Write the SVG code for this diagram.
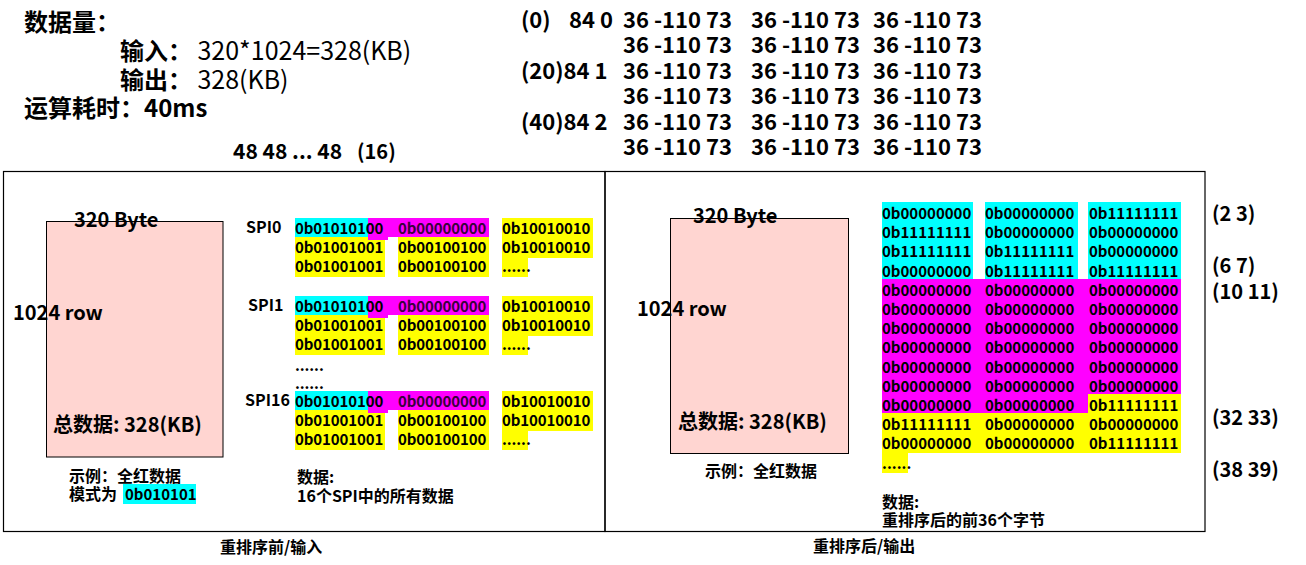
<svg xmlns="http://www.w3.org/2000/svg" width="1306" height="565" viewBox="0 0 1306 565">
<style>
text{font-family:"Noto Sans CJK SC","Noto Sans",sans-serif;font-weight:bold;fill:#000}
.h{font-size:24px}
.n{font-weight:normal;font-size:25px}
.top{font-size:22px}
.lbl{font-size:20px}
.sm{font-size:16px}
.g{font-size:15px}
.gl{letter-spacing:-0.1px}
.mg{fill:#3a003a}
.frame{fill:none;stroke:#000;stroke-width:1.2}
.pink{fill:#ffd5d1;stroke:#000;stroke-width:1}
.cy{fill:#00ffff}
.ma{fill:#ff00ff}
.ye{fill:#ffff00}
</style>

<g id="header">
<text class="h" x="24" y="31">数据量：</text>
<text class="h" x="120" y="60">输入： <tspan class="n">320*1024=328(KB)</tspan></text>
<text class="h" x="120" y="89">输出： <tspan class="n">328(KB)</tspan></text>
<text class="h" x="24" y="117">运算耗时：40ms</text>
<text x="233" y="159" font-size="21">48 48 ... 48</text>
<text x="357" y="159" font-size="20">(16)</text>
</g>

<g id="sequence" class="top">
<text x="521" y="28">(0)</text><text x="569" y="28">84 0</text>
<text x="521" y="79">(20)84 1</text>
<text x="521" y="130">(40)84 2</text>
<text x="623" y="28">36 -110 73</text><text x="751" y="28">36 -110 73</text><text x="873" y="28">36 -110 73</text>
<text x="623" y="53">36 -110 73</text><text x="751" y="53">36 -110 73</text><text x="873" y="53">36 -110 73</text>
<text x="623" y="79">36 -110 73</text><text x="751" y="79">36 -110 73</text><text x="873" y="79">36 -110 73</text>
<text x="623" y="104">36 -110 73</text><text x="751" y="104">36 -110 73</text><text x="873" y="104">36 -110 73</text>
<text x="623" y="130">36 -110 73</text><text x="751" y="130">36 -110 73</text><text x="873" y="130">36 -110 73</text>
<text x="623" y="155">36 -110 73</text><text x="751" y="155">36 -110 73</text><text x="873" y="155">36 -110 73</text>
</g>

<g id="panels">
<rect class="frame" x="3.5" y="171.5" width="601.5" height="360"/>
<rect class="frame" x="605" y="171.5" width="600" height="360"/>
<text class="sm" x="220" y="553">重排序前/输入</text>
<text class="sm" x="813" y="552">重排序后/输出</text>
</g>

<g id="input-matrix">
<rect class="pink" x="46.5" y="221.5" width="176.5" height="235.5"/>
<text class="lbl" x="74" y="227">320 Byte</text>
<text class="lbl" x="13" y="320">1024 row</text>
<text class="lbl" x="53" y="432">总数据: 328(KB)</text>
<text class="sm" x="69" y="482">示例：全红数据</text>
<rect class="cy" x="123" y="484" width="73" height="20"/>
<text class="sm" x="69" y="500">模式为</text>
<text x="125" y="500" font-size="15">0b010101</text>
</g>

<g id="spi0">
<rect class="ye" x="502" y="218" width="91" height="40"/>
<rect class="ye" x="295" y="237" width="90" height="40"/>
<rect class="ye" x="398" y="237" width="91" height="40"/>
<rect class="ye" x="502" y="258" width="26" height="19"/>
<rect class="cy" x="295" y="218" width="73" height="19"/>
<rect class="ma" x="368" y="218" width="121" height="19"/>
<rect class="ma" x="368" y="237" width="20" height="3"/>
<text class="sm" x="246" y="233">SPI0</text>
<g class="g gl">
<text x="295" y="234">0b01010100</text><text class="mg" x="398" y="234">0b00000000</text><text x="502" y="234">0b10010010</text>
<text x="295" y="253">0b01001001</text><text x="398" y="253">0b00100100</text><text x="502" y="253">0b10010010</text>
<text x="295" y="272">0b01001001</text><text x="398" y="272">0b00100100</text><text x="502" y="272">......</text>
</g>
</g>

<g id="spi1">
<rect class="ye" x="502" y="296" width="91" height="40"/>
<rect class="ye" x="295" y="315" width="90" height="40"/>
<rect class="ye" x="398" y="315" width="91" height="40"/>
<rect class="ye" x="502" y="336" width="26" height="19"/>
<rect class="cy" x="295" y="296" width="73" height="19"/>
<rect class="ma" x="368" y="296" width="121" height="19"/>
<rect class="ma" x="368" y="315" width="20" height="3"/>
<text class="sm" x="248" y="311">SPI1</text>
<g class="g gl">
<text x="295" y="312">0b01010100</text><text class="mg" x="398" y="312">0b00000000</text><text x="502" y="312">0b10010010</text>
<text x="295" y="331">0b01001001</text><text x="398" y="331">0b00100100</text><text x="502" y="331">0b10010010</text>
<text x="295" y="350">0b01001001</text><text x="398" y="350">0b00100100</text><text x="502" y="350">......</text>
<text x="295" y="371">......</text>
<text x="295" y="389">......</text>
</g>
</g>

<g id="spi16">
<rect class="ye" x="502" y="391" width="91" height="40"/>
<rect class="ye" x="295" y="410" width="90" height="40"/>
<rect class="ye" x="398" y="410" width="91" height="40"/>
<rect class="ye" x="502" y="431" width="26" height="19"/>
<rect class="cy" x="295" y="391" width="73" height="19"/>
<rect class="ma" x="368" y="391" width="121" height="19"/>
<rect class="ma" x="368" y="410" width="20" height="3"/>
<text class="sm" x="245" y="406">SPI16</text>
<g class="g gl">
<text x="295" y="407">0b01010100</text><text class="mg" x="398" y="407">0b00000000</text><text x="502" y="407">0b10010010</text>
<text x="295" y="426">0b01001001</text><text x="398" y="426">0b00100100</text><text x="502" y="426">0b10010010</text>
<text x="295" y="445">0b01001001</text><text x="398" y="445">0b00100100</text><text x="502" y="445">......</text>
</g>
<text class="sm" x="297" y="483">数据:</text>
<text class="sm" x="297" y="502">16个SPI中的所有数据</text>
</g>

<g id="output-matrix">
<rect class="pink" x="670.5" y="218.5" width="178" height="235"/>
<text class="lbl" x="693" y="223">320 Byte</text>
<text class="lbl" x="637" y="316">1024 row</text>
<text class="lbl" x="678" y="429">总数据: 328(KB)</text>
<text class="sm" x="705" y="477">示例：全红数据</text>
</g>

<g id="output-bytes">
<rect class="cy" x="882" y="202" width="91" height="77"/>
<rect class="cy" x="985" y="202" width="93" height="77"/>
<rect class="cy" x="1088" y="202" width="93" height="77"/>
<rect class="ma" x="882" y="279" width="206" height="134"/>
<rect class="ma" x="1088" y="279" width="93" height="115"/>
<rect class="ye" x="1088" y="394" width="93" height="19"/>
<rect class="ye" x="882" y="413" width="299" height="40"/>
<rect class="ye" x="882" y="453" width="26" height="20"/>
<g class="g">
<text x="882" y="219">0b00000000</text><text x="985" y="219">0b00000000</text><text x="1089" y="219">0b11111111</text>
<text x="882" y="238">0b11111111</text><text x="985" y="238">0b00000000</text><text x="1089" y="238">0b00000000</text>
<text x="882" y="257">0b11111111</text><text x="985" y="257">0b11111111</text><text x="1089" y="257">0b00000000</text>
<text x="882" y="277">0b00000000</text><text x="985" y="277">0b11111111</text><text x="1089" y="277">0b11111111</text>
<g class="mg">
<text x="882" y="296">0b00000000</text><text x="985" y="296">0b00000000</text><text x="1089" y="296">0b00000000</text>
<text x="882" y="315">0b00000000</text><text x="985" y="315">0b00000000</text><text x="1089" y="315">0b00000000</text>
<text x="882" y="334">0b00000000</text><text x="985" y="334">0b00000000</text><text x="1089" y="334">0b00000000</text>
<text x="882" y="353">0b00000000</text><text x="985" y="353">0b00000000</text><text x="1089" y="353">0b00000000</text>
<text x="882" y="373">0b00000000</text><text x="985" y="373">0b00000000</text><text x="1089" y="373">0b00000000</text>
<text x="882" y="392">0b00000000</text><text x="985" y="392">0b00000000</text><text x="1089" y="392">0b00000000</text>
<text x="882" y="411">0b00000000</text><text x="985" y="411">0b00000000</text>
</g>
<text x="1089" y="411">0b11111111</text>
<text x="882" y="430">0b11111111</text><text x="985" y="430">0b00000000</text><text x="1089" y="430">0b00000000</text>
<text x="882" y="449">0b00000000</text><text x="985" y="449">0b00000000</text><text x="1089" y="449">0b11111111</text>
<text x="882" y="469">......</text>
</g>
<text class="sm" x="882" y="508">数据:</text>
<text class="sm" x="882" y="526">重排序后的前36个字节</text>
</g>

<g id="offsets" class="lbl">
<text x="1212" y="221">(2 3)</text>
<text x="1212" y="273">(6 7)</text>
<text x="1212" y="299">(10 11)</text>
<text x="1212" y="425">(32 33)</text>
<text x="1212" y="477">(38 39)</text>
</g>
</svg>
